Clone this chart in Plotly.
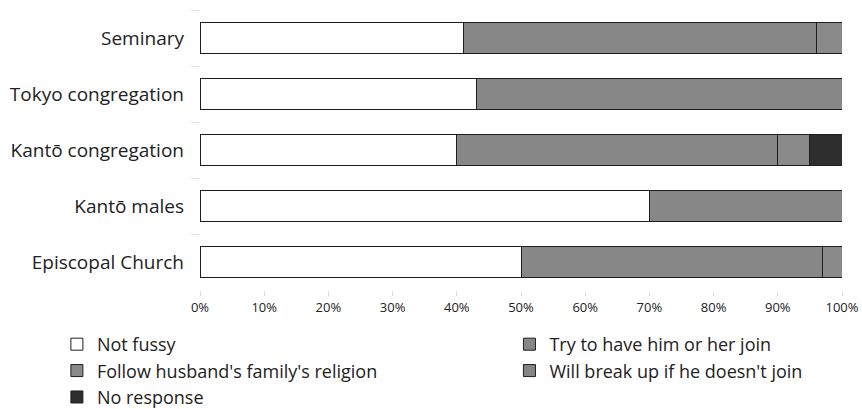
import plotly.graph_objects as go

categories = ["Seminary", "Tokyo congregation", "Kantō congregation", "Kantō males", "Episcopal Church"]
series_names = ["Not fussy", "Try to have him or her join", "Follow husband's family's religion",
                "Will break up if he doesn't join", "No response"]
not_fussy = [41, 43, 40, 70, 50]
try_join = [55, 57, 50, 30, 47]
follow_husband = [4, 0, 5, 0, 3]
break_up = [0, 0, 0, 0, 0]
no_response = [0, 0, 5, 0, 0]
x_ticks = [0, 10, 20, 30, 40, 50, 60, 70, 80, 90, 100]

values = [not_fussy, try_join, follow_husband, break_up, no_response]
colors = ["#ffffff", "#878787", "#8a8a8a", "#858585", "#2e2e2e"]
legend_ids = ["legend", "legend2", "legend", "legend2", "legend"]

FONT = "Open Sans"
fig = go.Figure()
for name, vals, col, lg in zip(series_names, values, colors, legend_ids):
    fig.add_trace(go.Bar(
        y=categories, x=vals, name=name, orientation="h",
        marker=dict(color=col, line=dict(color="#1e1e1e", width=1)),
        legend=lg,
    ))

leg_common = dict(xanchor="left", yanchor="top", xref="container", yref="container",
                  orientation="v", traceorder="normal",
                  font=dict(size=18, family=FONT, color="#222"),
                  itemwidth=30, tracegroupgap=0, bgcolor="rgba(0,0,0,0)")
fig.update_layout(
    width=862, height=409,
    barmode="stack", bargap=0.46,
    paper_bgcolor="white", plot_bgcolor="white",
    margin=dict(l=200, r=20, t=10, b=119, autoexpand=False),
    font=dict(family=FONT, size=19, color="#222"),
    legend=dict(x=0.066, y=0.2030, **leg_common),
    legend2=dict(x=0.591, y=0.2030, **leg_common),
    showlegend=True,
)
fig.update_xaxes(range=[0, 100], tickvals=x_ticks, ticktext=[f"{v}%" for v in x_ticks],
                 showgrid=False, zeroline=False, ticks="outside", ticklen=5,
                 tickcolor="#dddddd", tickfont=dict(size=13, family=FONT, color="#222"),
                 tickangle=0, showline=False, automargin=False)
fig.update_yaxes(autorange="reversed", showgrid=False, zeroline=False,
                 ticks="outside", tickson="boundaries", ticklen=8, tickcolor="#e0e0e0",
                 ticklabelstandoff=15, tickfont=dict(size=19, family=FONT, color="#222"),
                 showline=False, automargin=False)

fig.write_html("out.html", config={"displayModeBar": False},
               post_script="document.body.style.margin='0';document.body.style.overflow='hidden';")
